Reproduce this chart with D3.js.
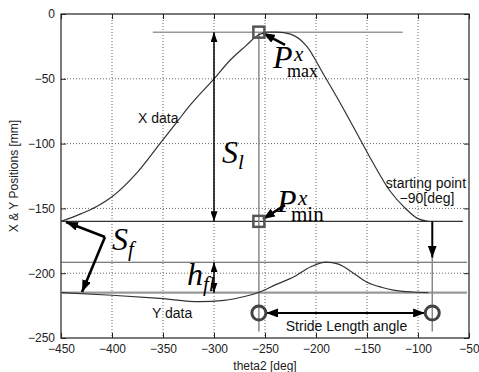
<!DOCTYPE html>
<html>
<head>
<meta charset="utf-8">
<script src="https://cdn.jsdelivr.net/npm/d3@7"></script>
<style>
  body { margin: 0; background: #fff; }
  svg { display: block; }
</style>
</head>
<body>
<div id="chart"></div>
<script>
// X data (foot x position) against theta2
var thetaX = [-450, -430, -415, -400, -375, -353, -337, -323, -300, -284, -268, -258, -248, -238, -225, -209, -193, -176, -160, -144, -128, -111, -101, -90];
var xPos   = [-160, -154, -148.5, -141, -122, -100, -84, -70, -50, -35.5, -24, -17, -14, -14, -15.5, -25, -46, -69, -92, -115, -136, -151, -157.5, -160];

// Y data (foot y position) against theta2
var thetaY = [-450, -400, -353, -314, -290, -270, -255, -240, -222, -205, -190, -178, -165, -150, -135, -124, -105, -90];
var yPos   = [-215, -217, -219.5, -222, -221, -218, -214.5, -209, -203, -195, -191.5, -193, -199, -207, -211, -213, -214.5, -215];

var xTicks = [-450, -400, -350, -300, -250, -200, -150, -100, -50];
var yTicks = [0, -50, -100, -150, -200, -250];

// reference lines (data units)
var hLineY  = [-14, -160, -191.5, -215];
var hLineX1 = [-360, -450, -450, -450];
var hLineX2 = [-115, -56, -52, -52];
var vLineX  = [-256, -86];
var vLineY1 = [-14, -188];
var vLineY2 = [-245, -245];

// key points
var pMaxX = -256, pMaxY = -14, pMinY = -160;
var strideY = -230.7, strideStart = -256, strideEnd = -86;

var margin = {top: 14, right: 10, bottom: 34, left: 61},
    width = 479 - margin.left - margin.right,
    height = 372 - margin.top - margin.bottom;

var svg = d3.select("#chart")
  .append("svg")
    .attr("width", width + margin.left + margin.right)
    .attr("height", height + margin.top + margin.bottom);

var defs = svg.append("defs");
function addHead(id, w, h) {
  defs.append("marker")
    .attr("id", id)
    .attr("viewBox", "0 0 " + w + " " + h)
    .attr("refX", w).attr("refY", h / 2)
    .attr("markerWidth", w).attr("markerHeight", h)
    .attr("markerUnits", "userSpaceOnUse")
    .attr("orient", "auto-start-reverse")
    .append("path")
      .attr("d", "M0,0L" + w + "," + (h / 2) + "L0," + h + "Z")
      .attr("fill", "#000");
}
addHead("head", 10, 7);
addHead("headBig", 12, 9);

var g = svg.append("g")
  .attr("transform", "translate(" + margin.left + "," + margin.top + ")");

var x = d3.scaleLinear().domain([-450, -50]).range([0, width]);
var y = d3.scaleLinear().domain([-250, 0]).range([height, 0]);

// dotted grid
g.append("g").selectAll("line")
  .data(xTicks.slice(1, -1))
  .enter().append("line")
    .attr("x1", d => x(d)).attr("x2", d => x(d))
    .attr("y1", 0).attr("y2", height)
    .attr("stroke", "#666").attr("stroke-dasharray", "1,2");
g.append("g").selectAll("line")
  .data(yTicks.slice(1, -1))
  .enter().append("line")
    .attr("y1", d => y(d)).attr("y2", d => y(d))
    .attr("x1", 0).attr("x2", width)
    .attr("stroke", "#666").attr("stroke-dasharray", "1,2");

// axes, ticks pointing inward
function styleAxis(sel) {
  sel.select(".domain").remove();
  sel.selectAll(".tick line").attr("stroke", "#222");
  sel.selectAll(".tick text")
    .attr("fill", "#222")
    .attr("font-family", "Liberation Sans, Arial, sans-serif")
    .attr("font-size", 12);
}
g.append("g")
  .attr("transform", "translate(0," + height + ")")
  .call(d3.axisBottom(x).tickValues(xTicks).tickSize(-5).tickPadding(6))
  .call(styleAxis);
g.append("g")
  .call(d3.axisTop(x).tickValues(xTicks).tickSize(-5).tickFormat(() => ""))
  .call(styleAxis);
g.append("g")
  .call(d3.axisLeft(y).tickValues(yTicks).tickSize(-5).tickPadding(6))
  .call(styleAxis);
g.append("g")
  .attr("transform", "translate(" + width + ",0)")
  .call(d3.axisRight(y).tickValues(yTicks).tickSize(-5).tickFormat(() => ""))
  .call(styleAxis);

// plot box
g.append("rect")
  .attr("width", width).attr("height", height)
  .attr("fill", "none").attr("stroke", "#222").attr("stroke-width", 1.2);

// axis labels
g.append("text")
  .attr("transform", "translate(-43," + (height / 2) + ") rotate(-90)")
  .attr("text-anchor", "middle")
  .attr("font-family", "Liberation Sans, Arial, sans-serif")
  .attr("font-size", 12).attr("fill", "#222")
  .text("X & Y Positions [mm]");
g.append("text")
  .attr("x", width / 2).attr("y", height + 32)
  .attr("text-anchor", "middle")
  .attr("font-family", "Liberation Sans, Arial, sans-serif")
  .attr("font-size", 12).attr("fill", "#222")
  .text("theta2 [deg]");

// reference lines
var hColor = ["#999", "#333", "#555", "#999"];
var hWidth = [1.5, 1.2, 1.1, 2.2];
g.append("g").selectAll("line")
  .data(hLineY)
  .enter().append("line")
    .attr("x1", (d, i) => x(hLineX1[i])).attr("x2", (d, i) => x(hLineX2[i]))
    .attr("y1", d => y(d)).attr("y2", d => y(d))
    .attr("stroke", (d, i) => hColor[i])
    .attr("stroke-width", (d, i) => hWidth[i]);
g.append("g").selectAll("line")
  .data(vLineX)
  .enter().append("line")
    .attr("x1", d => x(d)).attr("x2", d => x(d))
    .attr("y1", (d, i) => y(vLineY1[i])).attr("y2", (d, i) => y(vLineY2[i]))
    .attr("stroke", "#888").attr("stroke-width", 1.5);

// curves
var line = d3.line().x(d => x(d[0])).y(d => y(d[1])).curve(d3.curveMonotoneX);
g.append("path")
  .datum(d3.zip(thetaX, xPos))
  .attr("fill", "none").attr("stroke", "#333").attr("stroke-width", 1.2)
  .attr("d", line);
g.append("path")
  .datum(d3.zip(thetaY, yPos))
  .attr("fill", "none").attr("stroke", "#333").attr("stroke-width", 1.2)
  .attr("d", line);

// arrows
function arrow(x1, y1, x2, y2, w, both, big) {
  var a = g.append("line")
    .attr("x1", x(x1)).attr("y1", y(y1))
    .attr("x2", x(x2)).attr("y2", y(y2))
    .attr("stroke", "#000").attr("stroke-width", w)
    .attr("marker-end", "url(#" + (big ? "headBig" : "head") + ")");
  if (both) a.attr("marker-start", "url(#" + (big ? "headBig" : "head") + ")");
}
arrow(-300, pMinY, -300, pMaxY, 1.5, true, false);      // S_l
arrow(-300, -215, -300, -191.5, 1.5, true, false);      // h_fl
arrow(-230.4, -23.9, -252, -14.7, 2.6, false, true);    // to P max
arrow(-230.4, -147.4, -252, -158.2, 2.6, false, true);  // to P min
arrow(-406.9, -172.1, -445.1, -160.5, 2.6, false, true); // S_f upper
arrow(-406.9, -172.1, -429.4, -214.5, 2.6, false, true); // S_f lower
arrow(strideEnd, pMinY, strideEnd, -188, 2, false, true); // starting point
arrow(-249, strideY, -93, strideY, 2, true, true);      // stride length

// point markers
g.append("g").selectAll("rect")
  .data([pMaxY, pMinY])
  .enter().append("rect")
    .attr("x", x(pMaxX) - 5.5).attr("y", d => y(d) - 5.5)
    .attr("width", 11).attr("height", 11)
    .attr("fill", "none").attr("stroke", "#555").attr("stroke-width", 2.5);
g.append("g").selectAll("circle")
  .data([strideStart, strideEnd])
  .enter().append("circle")
    .attr("cx", d => x(d)).attr("cy", y(strideY)).attr("r", 7)
    .attr("fill", "none").attr("stroke", "#444").attr("stroke-width", 3);

// plain labels
function label(tx, ty, s, anchor) {
  g.append("text")
    .attr("x", x(tx)).attr("y", y(ty))
    .attr("text-anchor", anchor || "start")
    .attr("font-family", "Liberation Sans, Arial, sans-serif")
    .attr("font-size", 14).attr("fill", "#111")
    .text(s);
}
label(-374.5, -84.1, "X data");
label(-360.8, -234.6, "Y data");
label(-92.2, -134.3, "starting point", "middle");
label(-91.2, -145.8, "\u221290[deg]", "middle");
label(-170.1, -244.6, "Stride Length angle", "middle");

// math labels
function mathLabel(tx, ty, main, sup, sub, subItalic, subSize) {
  var t = g.append("text")
    .attr("x", x(tx)).attr("y", y(ty))
    .attr("font-family", "Liberation Serif, Times New Roman, serif")
    .attr("font-size", 32).attr("fill", "#000");
  t.append("tspan").attr("font-style", "italic").text(main);
  var px = x(tx);
  if (sup) {
    t.append("tspan").attr("x", px + 21).attr("dy", -7)
      .attr("font-style", "italic").attr("font-size", 21).text(sup);
    t.append("tspan").attr("x", px + 14).attr("dy", 16)
      .attr("font-size", subSize).text(sub);
  } else {
    t.append("tspan").attr("dy", 6)
      .attr("font-style", subItalic ? "italic" : "normal")
      .attr("font-size", subSize).text(sub);
  }
}
mathLabel(-292.2, -115.0, "S", null, "l", true, 21);
mathLabel(-400, -182.1, "S", null, "f", true, 21);
mathLabel(-326.5, -209.1, "h", null, "fl", true, 21);
mathLabel(-242.2, -41.7, "P", "x", "max", false, 18);
mathLabel(-238.2, -152.8, "P", "x", "min", false, 21);
</script>
</body>
</html>
